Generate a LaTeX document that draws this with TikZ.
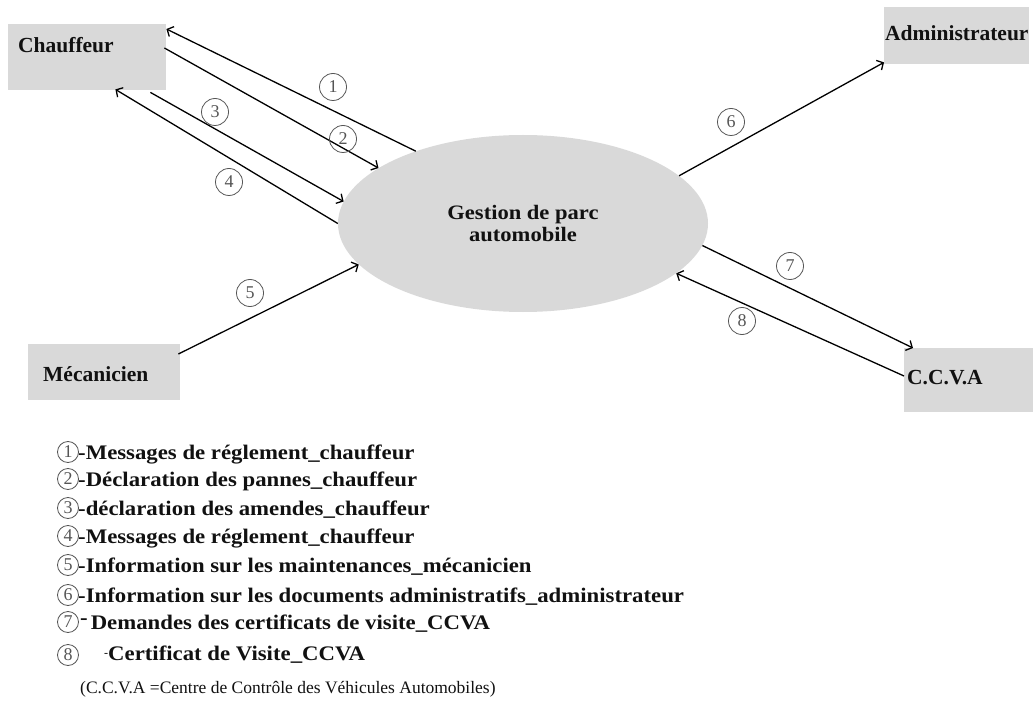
\documentclass[tikz,border=0pt]{standalone}
\usepackage{fontspec}
\setmainfont{Liberation Serif}
\newfontfamily\stretchfont[FakeStretch=1.1]{Liberation Serif}
\usetikzlibrary{calc,shapes.geometric,arrows.meta}
\definecolor{boxgray}{HTML}{D9D9D9}
\definecolor{ink}{HTML}{111111}
\definecolor{numgray}{HTML}{555555}
\begin{document}
\begin{tikzpicture}[x=1pt,y=-1pt,
  box/.style={fill=boxgray,draw=none,inner sep=0pt,anchor=north west},
  boxlabel/.style={anchor=base west,inner sep=0pt,text=ink,font=\fontsize{21.5}{22}\selectfont\bfseries},
  ell/.style={ellipse,fill=boxgray,draw=none,inner sep=0pt,minimum width=370pt,minimum height=177pt,
    align=center,text=ink,font=\stretchfont\fontsize{20.5}{22}\selectfont\bfseries},
  arr/.style={draw=black,line width=1.3pt,-{Straight Barb[length=5pt,width=11pt,line width=1.3pt]}},
  num/.style={circle,draw=numgray,line width=0.8pt,minimum size=27pt,inner sep=0pt,text=numgray,
    font=\fontsize{18}{18}\selectfont},
  lnum/.style={circle,draw=numgray,line width=0.8pt,minimum size=21pt,inner sep=0pt,text=numgray,
    font=\fontsize{18}{18}\selectfont},
  leg/.style={anchor=base west,inner sep=0pt,text=ink,font=\stretchfont\fontsize{20.7}{24}\selectfont\bfseries},
  note/.style={anchor=base west,inner sep=0pt,text=ink,font=\fontsize{17.5}{20}\selectfont}
]
\useasboundingbox (0,0) rectangle (1033,703);

% external entities
\node[box,minimum width=158pt,minimum height=66pt] (chauf) at (8,24) {};
\node[boxlabel] (chaufT) at (18,53) {Chauffeur};
\node[box,minimum width=152pt,minimum height=56pt] (meca) at (28,344) {};
\node[boxlabel] (mecaT) at (43,381) {Mécanicien};
\node[box,minimum width=145pt,minimum height=57pt] (admin) at (884,7) {};
\node[boxlabel] (adminT) at (885,41) {Administrateur};
\node[box,minimum width=129pt,minimum height=64pt] (ccva) at (904,348) {};
\node[boxlabel] (ccvaT) at (907,384) {C.C.V.A};

% process
\node[ell] (gp) at (523,223.5) {Gestion de parc\\automobile};

% flows
\draw[arr] (gp.146.4) -- ($(chauf.north east)+(0,5)$);
\draw[arr] ($(chauf.north east)+(-2,24)$) -- (gp.159.8);
\draw[arr] ($(chauf.south east)+(-16,2)$) -- (gp.173.2);
\draw[arr] (gp.180) -- ($(chauf.south east)+(-51,-1)$);
\draw[arr] ($(meca.north east)+(-2,10)$) -- (gp.194.4);
\draw[arr] (gp.17.6) -- ($(admin.south west)+(0,-2)$);
\draw[arr] (gp.353.9) -- ($(ccva.north west)+(9,0)$);
\draw[arr] ($(ccva.north west)+(0,28)$) -- (gp.342.5);

% flow numbers
\node[num] (n1) at (333,87) {1};
\node[num] (n2) at (343,139) {2};
\node[num] (n3) at (215,112) {3};
\node[num] (n4) at (229,182) {4};
\node[num] (n5) at (250,293) {5};
\node[num] (n6) at (731,122) {6};
\node[num] (n7) at (790,266) {7};
\node[num] (n8) at (742,321) {8};

% legend
\node[lnum] (l1) at (68,452) {1};
\node[leg] (t1) at (78,459) {-Messages de réglement\_chauffeur};
\node[lnum] (l2) at (68,479) {2};
\node[leg] (t2) at (78,486) {-Déclaration des pannes\_chauffeur};
\node[lnum] (l3) at (68,508) {3};
\node[leg] (t3) at (78,515) {-déclaration des amendes\_chauffeur};
\node[lnum] (l4) at (68,536) {4};
\node[leg] (t4) at (78,543) {-Messages de réglement\_chauffeur};
\node[lnum] (l5) at (68,565) {5};
\node[leg] (t5) at (78,572) {-Information sur les maintenances\_mécanicien};
\node[lnum] (l6) at (68,595) {6};
\node[leg] (t6) at (78,602) {-Information sur les documents administratifs\_administrateur};
\node[lnum] (l7) at (68,622) {7};
\node[leg] (t7) at (80,629) {\raisebox{5pt}{-}\hspace{3pt}Demandes des certificats de visite\_CCVA};
\node[lnum] (l8) at (68,655) {8};
\node[leg] (t8) at (104,660) {\raisebox{4pt}{\fontsize{11}{11}\selectfont -}Certificat de Visite\_CCVA};
\node[note] (fn) at (80,693) {(C.C.V.A =Centre de Contrôle des Véhicules Automobiles)};
\end{tikzpicture}
\end{document}
